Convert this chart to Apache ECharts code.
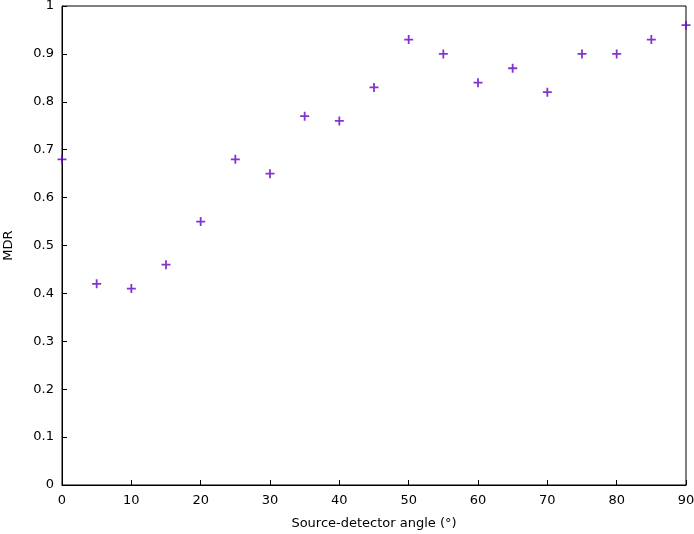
<!DOCTYPE html>
<html><head><meta charset="utf-8">
<script src="https://cdn.jsdelivr.net/npm/echarts@6/dist/echarts.min.js"></script>
<style>html,body{margin:0;padding:0;background:#fff}#c{width:694px;height:534px}</style>
</head><body><div id="c"></div>
<script>
const angles = [0,5,10,15,20,25,30,35,40,45,50,55,60,65,70,75,80,85,90];
const mdr = [0.68,0.42,0.41,0.46,0.55,0.68,0.65,0.77,0.76,0.83,0.93,0.90,0.84,0.87,0.82,0.90,0.90,0.93,0.96];
const xTicks = [0,10,20,30,40,50,60,70,80,90];
const yTicks = [0,0.1,0.2,0.3,0.4,0.5,0.6,0.7,0.8,0.9,1];
const chart = echarts.init(document.getElementById('c'), null, {renderer:'canvas'});
const font = 'DejaVu Sans';
chart.setOption({
  animation:false,
  backgroundColor:'#fff',
  grid:{left:62,right:8,top:6,bottom:49,show:true,borderColor:'#000',borderWidth:1,backgroundColor:'transparent',
    containLabel:false,outerBoundsMode:'none'},
  xAxis:{type:'value',min:0,max:90,interval:10,
    name:'Source-detector angle (°)',nameLocation:'middle',nameGap:32,
    nameTextStyle:{fontFamily:font,fontSize:13,color:'#000'},
    axisLine:{lineStyle:{color:'#000',width:1}},
    axisTick:{inside:true,length:5,lineStyle:{color:'#000'}},
    axisLabel:{fontFamily:font,fontSize:13,color:'#000',margin:9,formatter:v=>String(v)},
    splitLine:{show:false}},
  yAxis:{type:'value',min:0,max:1,interval:0.1,
    name:'MDR',nameLocation:'middle',nameGap:47,nameRotate:90,
    nameTextStyle:{fontFamily:font,fontSize:13,color:'#000'},
    axisLine:{lineStyle:{color:'#000',width:1}},
    axisTick:{inside:true,length:5,lineStyle:{color:'#000'}},
    axisLabel:{fontFamily:font,fontSize:13,color:'#000',margin:8,formatter:v=>{const r=Math.round(v*10)/10;return String(r);}},
    splitLine:{show:false}},
  series:[{type:'scatter',
    data:angles.map((a,i)=>[a,mdr[i]]),
    symbol:'path://M4,0H6V4H10V6H6V10H4V6H0V4H4Z',
    symbolSize:9,
    itemStyle:{color:'#6400c4'},
    clip:false}]
});
</script></body></html>
